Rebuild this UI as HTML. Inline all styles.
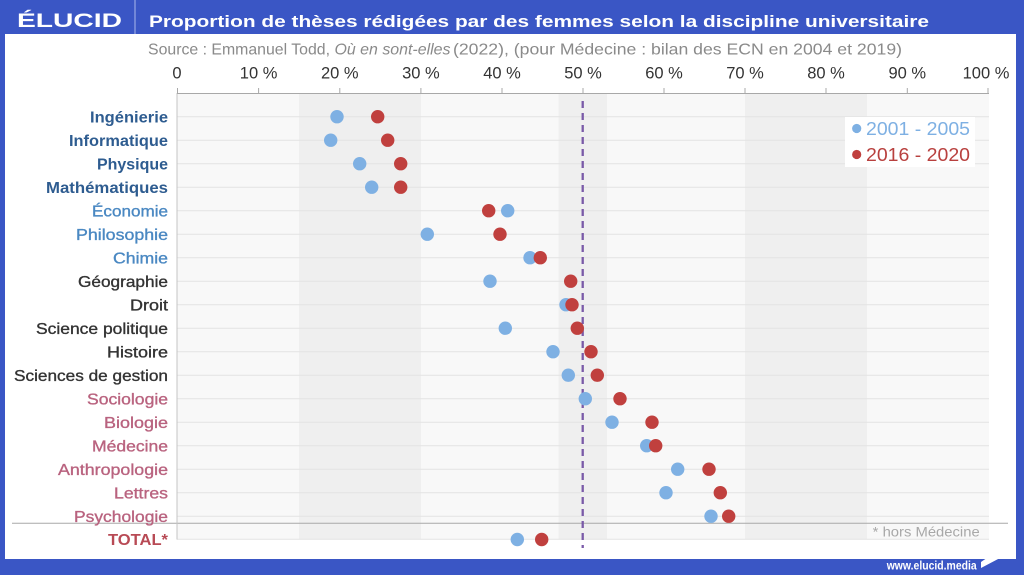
<!DOCTYPE html>
<html><head><meta charset="utf-8"><style>
html,body{margin:0;padding:0;background:#3a56c5;}
svg{display:block;}
text{font-family:"Liberation Sans",sans-serif;}
</style></head><body>
<svg width="1024" height="575" viewBox="0 0 1024 575" xmlns="http://www.w3.org/2000/svg">
<rect x="0" y="0" width="1024" height="575" fill="#3a56c5"/>
<rect x="5" y="34" width="1011" height="525" fill="#ffffff"/>
<!-- header -->
<text x="17" y="27" font-size="19" font-weight="bold" fill="#ffffff" textLength="105" lengthAdjust="spacingAndGlyphs">ÉLUCID</text>
<line x1="135" y1="0" x2="135" y2="34" stroke="#aab8ea" stroke-width="1"/>
<text x="149" y="27" font-size="17" font-weight="bold" fill="#ffffff" textLength="780" lengthAdjust="spacingAndGlyphs">Proportion de thèses rédigées par des femmes selon la discipline universitaire</text>
<!-- source -->
<text x="148" y="54.5" font-size="16" fill="#8a8a8a" textLength="182" lengthAdjust="spacingAndGlyphs">Source : Emmanuel Todd,</text>
<text x="334.5" y="54.5" font-size="16" font-style="italic" fill="#8a8a8a" textLength="116" lengthAdjust="spacingAndGlyphs">Où en sont-elles</text>
<text x="453" y="54.5" font-size="16" fill="#8a8a8a" textLength="449" lengthAdjust="spacingAndGlyphs">(2022), (pour Médecine : bilan des ECN en 2004 et 2019)</text>
<!-- plot bg -->
<rect x="177" y="94" width="812" height="445" fill="#f8f8f8"/>
<rect x="299" y="94" width="122" height="445" fill="#efefef"/>
<rect x="558.5" y="94" width="48.5" height="445" fill="#efefef"/>
<rect x="745" y="94" width="122" height="445" fill="#efefef"/>
<!-- gridlines -->
<g stroke="#e3e3e3" stroke-width="1">
<line x1="177" x2="989" y1="116.7" y2="116.7"/>
<line x1="177" x2="989" y1="140.2" y2="140.2"/>
<line x1="177" x2="989" y1="163.7" y2="163.7"/>
<line x1="177" x2="989" y1="187.2" y2="187.2"/>
<line x1="177" x2="989" y1="210.7" y2="210.7"/>
<line x1="177" x2="989" y1="234.2" y2="234.2"/>
<line x1="177" x2="989" y1="257.7" y2="257.7"/>
<line x1="177" x2="989" y1="281.2" y2="281.2"/>
<line x1="177" x2="989" y1="304.7" y2="304.7"/>
<line x1="177" x2="989" y1="328.2" y2="328.2"/>
<line x1="177" x2="989" y1="351.7" y2="351.7"/>
<line x1="177" x2="989" y1="375.2" y2="375.2"/>
<line x1="177" x2="989" y1="398.7" y2="398.7"/>
<line x1="177" x2="989" y1="422.2" y2="422.2"/>
<line x1="177" x2="989" y1="445.7" y2="445.7"/>
<line x1="177" x2="989" y1="469.2" y2="469.2"/>
<line x1="177" x2="989" y1="492.7" y2="492.7"/>
<line x1="177" x2="989" y1="516.2" y2="516.2"/>
<line x1="177" x2="989" y1="539.3" y2="539.3"/>
</g>
<line x1="12" x2="1008" y1="523.3" y2="523.3" stroke="#a8a8a8" stroke-width="1"/>
<line x1="177" x2="177" y1="93" y2="539.5" stroke="#c4c4c4" stroke-width="1"/>
<!-- axis -->
<line x1="177" x2="989" y1="93.5" y2="93.5" stroke="#a8a8a8" stroke-width="1"/>
<g stroke="#a8a8a8" stroke-width="1">
<line x1="177.5" x2="177.5" y1="88" y2="93.5"/>
<line x1="258.6" x2="258.6" y1="88" y2="93.5"/>
<line x1="339.8" x2="339.8" y1="88" y2="93.5"/>
<line x1="420.9" x2="420.9" y1="88" y2="93.5"/>
<line x1="502" x2="502" y1="88" y2="93.5"/>
<line x1="583" x2="583" y1="88" y2="93.5"/>
<line x1="664" x2="664" y1="88" y2="93.5"/>
<line x1="745" x2="745" y1="88" y2="93.5"/>
<line x1="826" x2="826" y1="88" y2="93.5"/>
<line x1="907.3" x2="907.3" y1="88" y2="93.5"/>
<line x1="988" x2="988" y1="88" y2="93.5"/>
</g>
<g font-size="16.5" fill="#333" text-anchor="middle">
<text x="177" y="78.5">0</text>
<text x="258.6" y="78.5">10 %</text>
<text x="339.8" y="78.5">20 %</text>
<text x="420.9" y="78.5">30 %</text>
<text x="502" y="78.5">40 %</text>
<text x="583" y="78.5">50 %</text>
<text x="664" y="78.5">60 %</text>
<text x="745" y="78.5">70 %</text>
<text x="826" y="78.5">80 %</text>
<text x="907.3" y="78.5">90 %</text>
<text x="986" y="78.5">100 %</text>
</g>
<!-- dashed 50% -->
<line x1="582.7" x2="582.7" y1="101" y2="548" stroke="#7a5aa8" stroke-width="2.3" stroke-dasharray="7,5"/>
<!-- labels -->
<g font-size="16">
<text x="90" y="122.7" font-weight="bold" fill="#2e5c90" textLength="78" lengthAdjust="spacingAndGlyphs">Ingénierie</text>
<text x="69" y="146.2" font-weight="bold" fill="#2e5c90" textLength="99" lengthAdjust="spacingAndGlyphs">Informatique</text>
<text x="97" y="169.7" font-weight="bold" fill="#2e5c90" textLength="71" lengthAdjust="spacingAndGlyphs">Physique</text>
<text x="46" y="193.2" font-weight="bold" fill="#2e5c90" textLength="122" lengthAdjust="spacingAndGlyphs">Mathématiques</text>
<text x="92" y="216.7" fill="#4a88c2" stroke="#4a88c2" stroke-width="0.35" textLength="76" lengthAdjust="spacingAndGlyphs">Économie</text>
<text x="76" y="240.2" fill="#4a88c2" stroke="#4a88c2" stroke-width="0.35" textLength="92" lengthAdjust="spacingAndGlyphs">Philosophie</text>
<text x="113" y="263.7" fill="#4a88c2" stroke="#4a88c2" stroke-width="0.35" textLength="55" lengthAdjust="spacingAndGlyphs">Chimie</text>
<text x="78" y="287.2" fill="#333" stroke="#333" stroke-width="0.35" textLength="90" lengthAdjust="spacingAndGlyphs">Géographie</text>
<text x="130" y="310.7" fill="#333" stroke="#333" stroke-width="0.35" textLength="38" lengthAdjust="spacingAndGlyphs">Droit</text>
<text x="36" y="334.2" fill="#333" stroke="#333" stroke-width="0.35" textLength="132" lengthAdjust="spacingAndGlyphs">Science politique</text>
<text x="107" y="357.7" fill="#333" stroke="#333" stroke-width="0.35" textLength="61" lengthAdjust="spacingAndGlyphs">Histoire</text>
<text x="14" y="381.2" fill="#333" stroke="#333" stroke-width="0.35" textLength="154" lengthAdjust="spacingAndGlyphs">Sciences de gestion</text>
<text x="87" y="404.7" fill="#b9637f" stroke="#b9637f" stroke-width="0.35" textLength="81" lengthAdjust="spacingAndGlyphs">Sociologie</text>
<text x="104" y="428.2" fill="#b9637f" stroke="#b9637f" stroke-width="0.35" textLength="64" lengthAdjust="spacingAndGlyphs">Biologie</text>
<text x="92" y="451.7" fill="#b9637f" stroke="#b9637f" stroke-width="0.35" textLength="76" lengthAdjust="spacingAndGlyphs">Médecine</text>
<text x="58" y="475.2" fill="#b9637f" stroke="#b9637f" stroke-width="0.35" textLength="110" lengthAdjust="spacingAndGlyphs">Anthropologie</text>
<text x="114" y="498.7" fill="#b9637f" stroke="#b9637f" stroke-width="0.35" textLength="54" lengthAdjust="spacingAndGlyphs">Lettres</text>
<text x="74" y="522.2" fill="#b9637f" stroke="#b9637f" stroke-width="0.35" textLength="94" lengthAdjust="spacingAndGlyphs">Psychologie</text>
<text x="108" y="545.2" font-weight="bold" fill="#b84a55" textLength="60" lengthAdjust="spacingAndGlyphs">TOTAL*</text>
</g>
<!-- dots -->
<g>
<circle cx="337" cy="116.7" r="6.7" fill="#7eb0e3"/><circle cx="377.7" cy="116.7" r="6.7" fill="#c0403e"/>
<circle cx="330.7" cy="140.2" r="6.7" fill="#7eb0e3"/><circle cx="387.7" cy="140.2" r="6.7" fill="#c0403e"/>
<circle cx="359.7" cy="163.7" r="6.7" fill="#7eb0e3"/><circle cx="400.7" cy="163.7" r="6.7" fill="#c0403e"/>
<circle cx="371.7" cy="187.2" r="6.7" fill="#7eb0e3"/><circle cx="400.7" cy="187.2" r="6.7" fill="#c0403e"/>
<circle cx="507.7" cy="210.7" r="6.7" fill="#7eb0e3"/><circle cx="488.7" cy="210.7" r="6.7" fill="#c0403e"/>
<circle cx="427.3" cy="234.2" r="6.7" fill="#7eb0e3"/><circle cx="500" cy="234.2" r="6.7" fill="#c0403e"/>
<circle cx="530" cy="257.7" r="6.7" fill="#7eb0e3"/><circle cx="540.3" cy="257.7" r="6.7" fill="#c0403e"/>
<circle cx="490" cy="281.2" r="6.7" fill="#7eb0e3"/><circle cx="570.7" cy="281.2" r="6.7" fill="#c0403e"/>
<circle cx="566" cy="304.7" r="6.7" fill="#7eb0e3"/><circle cx="572" cy="304.7" r="6.7" fill="#c0403e"/>
<circle cx="505.3" cy="328.2" r="6.7" fill="#7eb0e3"/><circle cx="577.3" cy="328.2" r="6.7" fill="#c0403e"/>
<circle cx="553" cy="351.7" r="6.7" fill="#7eb0e3"/><circle cx="591" cy="351.7" r="6.7" fill="#c0403e"/>
<circle cx="568.3" cy="375.2" r="6.7" fill="#7eb0e3"/><circle cx="597.3" cy="375.2" r="6.7" fill="#c0403e"/>
<circle cx="585.3" cy="398.7" r="6.7" fill="#7eb0e3"/><circle cx="620" cy="398.7" r="6.7" fill="#c0403e"/>
<circle cx="612" cy="422.2" r="6.7" fill="#7eb0e3"/><circle cx="652" cy="422.2" r="6.7" fill="#c0403e"/>
<circle cx="646.7" cy="445.7" r="6.7" fill="#7eb0e3"/><circle cx="655.7" cy="445.7" r="6.7" fill="#c0403e"/>
<circle cx="677.7" cy="469.2" r="6.7" fill="#7eb0e3"/><circle cx="709" cy="469.2" r="6.7" fill="#c0403e"/>
<circle cx="666" cy="492.7" r="6.7" fill="#7eb0e3"/><circle cx="720.3" cy="492.7" r="6.7" fill="#c0403e"/>
<circle cx="711" cy="516.2" r="6.7" fill="#7eb0e3"/><circle cx="728.7" cy="516.2" r="6.7" fill="#c0403e"/>
<circle cx="517.3" cy="539.5" r="6.7" fill="#7eb0e3"/><circle cx="541.7" cy="539.5" r="6.7" fill="#c0403e"/>
</g>
<!-- legend -->
<rect x="845" y="117" width="130" height="50" fill="#ffffff"/>
<circle cx="856.7" cy="128.5" r="4.6" fill="#7eb0e3"/>
<text x="866" y="135" font-size="18.5" fill="#7eb0e3" textLength="104" lengthAdjust="spacingAndGlyphs">2001 - 2005</text>
<circle cx="856.7" cy="154.5" r="4.6" fill="#c0403e"/>
<text x="866" y="161" font-size="18.5" fill="#b8403e" textLength="104" lengthAdjust="spacingAndGlyphs">2016 - 2020</text>
<!-- footnote -->
<text x="872.7" y="536.5" font-size="14" fill="#a8a8a8" textLength="107" lengthAdjust="spacingAndGlyphs">* hors Médecine</text>
<!-- footer -->
<text x="886.7" y="569.5" font-size="12" font-weight="bold" fill="#ffffff" textLength="90" lengthAdjust="spacingAndGlyphs">www.elucid.media</text>
<polygon points="981,568 1000,558 1000,553 994,553 981,562" fill="#ffffff"/>
</svg>
</body></html>
